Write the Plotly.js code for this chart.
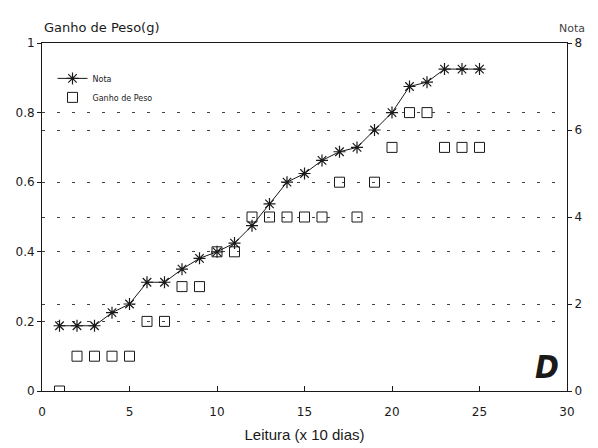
<!DOCTYPE html>
<html>
<head>
<meta charset="utf-8">
<script src="https://cdn.plot.ly/plotly-3.0.1.min.js"></script>
<style>html,body{margin:0;padding:0;background:#fff;}#chart{width:598px;height:448px;}</style>
</head>
<body>
<div id="chart"></div>
<script>
var leitura = [1,2,3,4,5,6,7,8,9,10,11,12,13,14,15,16,17,18,19,20,21,22,23,24,25];
var nota = [1.5,1.5,1.5,1.8,2.0,2.5,2.5,2.8,3.05,3.2,3.4,3.8,4.3,4.8,5.0,5.3,5.5,5.6,6.0,6.4,7.0,7.1,7.4,7.4,7.4];
var ganhoPeso = [0,0.1,0.1,0.1,0.1,0.2,0.2,0.3,0.3,0.4,0.4,0.5,0.5,0.5,0.5,0.5,0.6,0.5,0.6,0.7,0.8,0.8,0.7,0.7,0.7];
var xTicks = [0,5,10,15,20,25,30];
var yLeftTicks = [0,0.2,0.4,0.6,0.8,1];
var yLeftLabels = ['0','0.2','0.4','0.6','0.8','1'];
var yRightTicks = [0,2,4,6,8];

var ink = '#1a1a1a';
var traces = [
  {x: leitura, y: nota, yaxis: 'y2', name: 'Nota', type: 'scatter', mode: 'lines+markers',
   line: {color: ink, width: 1},
   marker: {symbol: 'asterisk-open', size: 10, color: ink, line: {color: ink, width: 1.2}}},
  {x: leitura, y: ganhoPeso, yaxis: 'y', name: 'Ganho de Peso', type: 'scatter', mode: 'markers',
   marker: {symbol: 'square-open', size: 10, color: ink, line: {color: ink, width: 1}}}
];

var gridStyle = {gridcolor: '#444', gridwidth: 1, griddash: '3px,12px'};
var layout = {
  width: 598, height: 448,
  margin: {l: 42, r: 31, t: 43, b: 57},
  paper_bgcolor: '#fff', plot_bgcolor: '#fff',
  font: {family: 'DejaVu Sans', size: 10, color: ink},
  showlegend: true,
  legend: {x: 0.02, y: 0.94, xanchor: 'left', yanchor: 'top', bgcolor: 'rgba(0,0,0,0)',
           font: {family: 'DejaVu Sans', size: 8, color: ink}, tracegroupgap: 0},
  xaxis: {range: [0, 30], tickvals: xTicks, ticks: 'inside', ticklen: 5, tickcolor: ink,
          showline: true, linecolor: ink, linewidth: 1, mirror: true, showgrid: false, zeroline: false,
          ticklabelstandoff: 10,
          tickfont: {family: 'DejaVu Sans', size: 12, color: ink},
          title: {text: 'Leitura (x 10 dias)', font: {family: 'Liberation Sans', size: 15, color: ink}, standoff: 11}},
  yaxis: Object.assign({range: [0, 1], tickvals: yLeftTicks, ticktext: yLeftLabels, ticks: 'outside', ticklen: 4,
          tickcolor: ink, showline: true, linecolor: ink, linewidth: 1, zeroline: false, showgrid: true,
          tickfont: {family: 'DejaVu Sans', size: 12, color: ink}}, gridStyle),
  yaxis2: Object.assign({range: [0, 8], tickvals: yRightTicks, overlaying: 'y', side: 'right', ticks: 'outside',
          ticklen: 4, tickcolor: ink, showline: true, linecolor: ink, linewidth: 1, zeroline: false, showgrid: true,
          tickfont: {family: 'DejaVu Sans', size: 12, color: ink}}, gridStyle),
  annotations: [
    {text: 'Ganho de Peso(g)', xref: 'paper', yref: 'paper', x: 0, y: 1, xanchor: 'left', yanchor: 'bottom',
     yshift: 6, showarrow: false, font: {family: 'DejaVu Sans', size: 13, color: ink}},
    {text: 'Nota', xref: 'paper', yref: 'paper', x: 1, y: 1, xanchor: 'right', yanchor: 'bottom',
     xshift: 20, yshift: 6, showarrow: false, font: {family: 'DejaVu Sans', size: 11, color: '#444'}},
    {text: '<b><i>D</i></b>', xref: 'paper', yref: 'paper', x: 0.962, y: 0.07, xanchor: 'center', yanchor: 'middle',
     showarrow: false, font: {family: 'DejaVu Sans Condensed', size: 32, color: ink}}
  ]
};
Plotly.newPlot('chart', traces, layout, {displayModeBar: false, staticPlot: true});
</script>
</body>
</html>
